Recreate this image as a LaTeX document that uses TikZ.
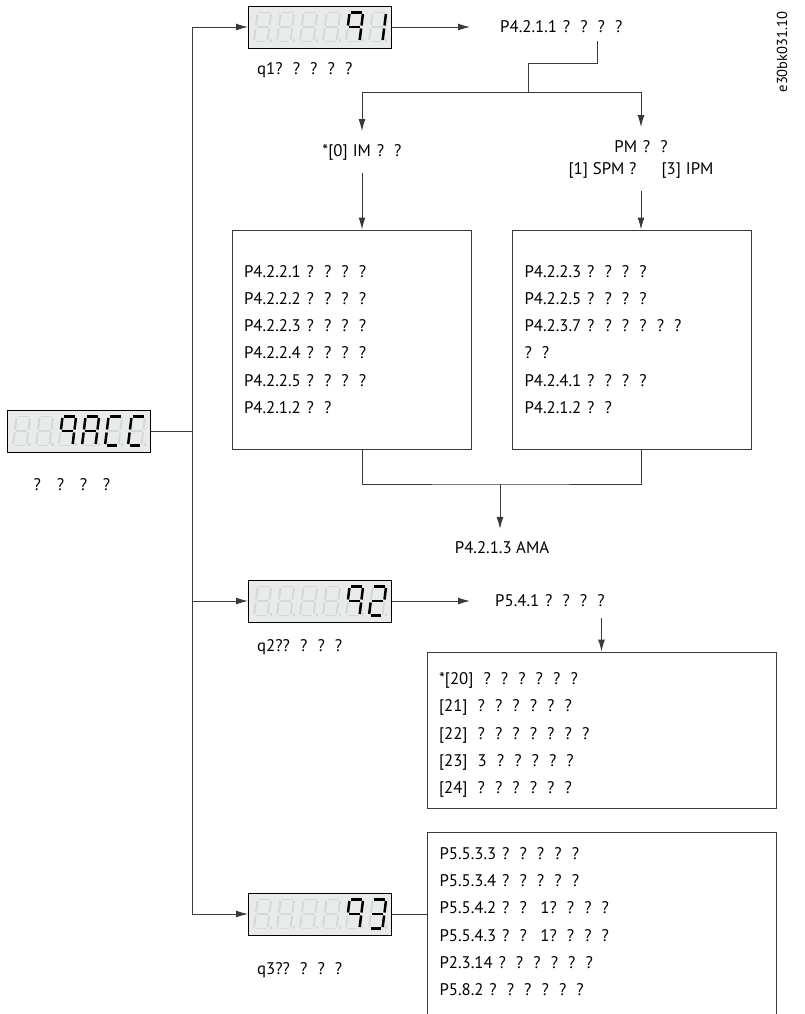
\documentclass[tikz,border=0pt]{standalone}
\usepackage{fontspec}
\setmainfont{PT Sans}
\usetikzlibrary{arrows.meta}
\definecolor{lcdbg}{HTML}{E9EBEB}
\definecolor{lcdghost}{HTML}{D5D8D8}
\definecolor{linec}{HTML}{3A3A3A}
\newcommand\fs{\fontsize{16.8bp}{27.2bp}\selectfont}
\newcommand\fsb{\fontsize{16.8bp}{22bp}\selectfont}
\newcommand\W{\spaceskip=0.6em\xspaceskip=0.6em\relax}
\def\SegEight{TL/TR,TR/MR,MR/BR,BL/BR,ML/BL,TL/ML,ML/MR}
\def\SegNine{TL/TR,TR/MR,MR/BR,TL/ML,ML/MR}
\def\SegOne{TR/MR,MR/BR}
\def\SegTwo{TL/TR,TR/MR,ML/MR,ML/BL,BL/BR}
\def\SegThree{TL/TR,TR/MR,ML/MR,MR/BR,BL/BR}
\def\SegA{TL/TR,TR/MR,MR/BR,ML/BL,TL/ML,ML/MR}
\def\SegC{TL/TR,BL/BR,ML/BL,TL/ML}
\newcommand\lcddigit[5]{%
  \begin{scope}[shift={(#1.south west)}]
   \begin{scope}[shift={(6+23*#2,-7)}]
    \coordinate (BL) at (0,0); \coordinate (BR) at (13.5,0);
    \coordinate (ML) at (1.8,-14.5); \coordinate (MR) at (15.3,-14.5);
    \coordinate (TL) at (3.6,-29); \coordinate (TR) at (17.1,-29);
    \foreach \p/\q in #3 {\draw[#4, line width=#5, shorten <=1.5bp, shorten >=1.5bp] (\p) -- (\q);}
   \end{scope}
  \end{scope}}
\newcommand\lcddot[2]{%
  \begin{scope}[shift={(#1.south west)}]
   \fill[lcdghost] (6+23*#2+15.5,-7) rectangle ++(2.2,-2.2);
  \end{scope}}
\tikzset{
  conn/.style={draw=linec, line width=1bp},
  arr/.style={conn, -{Latex[length=12bp,width=7bp]}},
  lcd/.style={draw=black, line width=1bp, fill=lcdbg, minimum width=143bp, minimum height=42bp, inner sep=0},
  txt/.style={inner sep=0, font=\fs},
  lbl/.style={inner sep=0, outer ysep=13bp, align=center, font=\fsb},
  panel/.style={draw=linec, line width=1bp, inner xsep=12bp, align=left, font=\fs},
}
\begin{document}
\begin{tikzpicture}[x=1bp,y=-1bp]
\useasboundingbox[fill=white] (0,0) rectangle (805,1014);

% LCD displays
\node[lcd] (lcd0) at (79,431) {};
\node[lcd] (lcd1) at (320,27) {};
\node[lcd] (lcd2) at (320,601) {};
\node[lcd] (lcd3) at (320,914) {};
\foreach \n in {lcd0,lcd1,lcd2,lcd3}{\foreach \i in {0,...,5}{\lcddigit{\n}{\i}{\SegEight}{lcdghost}{1.9bp}\lcddot{\n}{\i}}}
\lcddigit{lcd0}{2}{\SegNine}{black}{2.5bp}
\lcddigit{lcd0}{3}{\SegA}{black}{2.5bp}
\lcddigit{lcd0}{4}{\SegC}{black}{2.5bp}
\lcddigit{lcd0}{5}{\SegC}{black}{2.5bp}
\lcddigit{lcd1}{4}{\SegNine}{black}{2.5bp}
\lcddigit{lcd1}{5}{\SegOne}{black}{2.5bp}
\lcddigit{lcd2}{4}{\SegNine}{black}{2.5bp}
\lcddigit{lcd2}{5}{\SegTwo}{black}{2.5bp}
\lcddigit{lcd3}{4}{\SegNine}{black}{2.5bp}
\lcddigit{lcd3}{5}{\SegThree}{black}{2.5bp}

% labels under LCDs
\node[txt] (l0) at (72,485) {\spaceskip=0.85em\relax ? ? ? ?};
\node[txt, anchor=west] (l1) at (257,70) {\W q1? ? ? ? ?};
\node[txt, anchor=west] (l2) at (257,647) {\W q2?? ? ? ?};
\node[txt, anchor=west] (l3) at (257,970) {\W q3?? ? ? ?};

% main trunk
\coordinate (top) at (192,27);
\coordinate (bot) at (192,914);
\draw[conn] (top) -- (bot);
\draw[conn] (lcd0.east) -- (lcd0.east -| top);
\draw[arr] (top) -- (lcd1.west);
\draw[arr] (lcd2.west -| top) -- (lcd2.west);
\draw[arr] (bot) -- (lcd3.west);

% branch q1
\node[txt, anchor=west] (t1) at (500,27) {\W P4.2.1.1\kern.35em ? ? ? ?};
\draw[arr] (lcd1.east) -- ([xshift=-30bp]t1.west);
\coordinate (s0) at (597,63);
\coordinate (jm) at (528,92);
\node[lbl] (im) at (362,152) {\W *[0]\kern.3em IM\kern.35em ? ?};
\node[lbl] (pm) at (641,159) {\W PM\kern.35em ? ?\\{}[1]\kern.3em SPM ?\kern1.5em[3]\kern.3em IPM};
\draw[conn] (s0 |- t1.south) ++(0,8) -- (s0) -| (jm);
\draw[conn] (jm -| im) -- (jm -| pm);
\draw[arr] (jm -| im) -- (im.north);
\draw[arr] (jm -| pm) -- (pm.north);

\node[panel, minimum width=239bp, minimum height=219bp, text width=215bp] (boxL) at (351.5,339.5) {\W
P4.2.2.1\kern.35em ? ? ? ?\\
P4.2.2.2\kern.35em ? ? ? ?\\
P4.2.2.3\kern.35em ? ? ? ?\\
P4.2.2.4\kern.35em ? ? ? ?\\
P4.2.2.5\kern.35em ? ? ? ?\\
P4.2.1.2\kern.35em ? ?};
\node[panel, minimum width=239bp, minimum height=219bp, text width=214bp, inner xsep=12.5bp] (boxR) at (631.5,339.5) {\W
P4.2.2.3\kern.35em ? ? ? ?\\
P4.2.2.5\kern.35em ? ? ? ?\\
P4.2.3.7\kern.35em ? ? ? ? ? ?\\
? ?\\
P4.2.4.1\kern.35em ? ? ? ?\\
P4.2.1.2\kern.35em ? ?};
\draw[arr] (im.south) -- (im.south |- boxL.north);
\draw[arr] (pm.south) -- (pm.south |- boxR.north);

\coordinate (jb) at (500,484);
\node[lbl] (ama) at (502,548) {P4.2.1.3 AMA};
\draw[conn] (im |- boxL.south) |- (jb) -| (pm |- boxR.south);
\draw[arr] (jb) -- (jb |- ama.north);

% branch q2
\node[txt, anchor=west] (t2) at (495,601) {\W P5.4.1\kern.35em ? ? ? ?};
\draw[arr] (lcd2.east) -- ([xshift=-25bp]t2.west);
\node[panel, minimum width=349bp, minimum height=156bp, text width=325bp] (box2) at (601.5,730) {\W
\rule{0pt}{22bp}*[20] ? ? ? ? ? ?\\{}%
[21] ? ? ? ? ? ?\\{}%
[22] ? ? ? ? ? ? ?\\{}%
[23] 3 ? ? ? ? ?\\{}%
[24] ? ? ? ? ? ?};
\draw[arr] (box2.north |- t2.south) ++(0,11) -- (box2.north);

% branch q3
\coordinate (pgbot) at (0,1014);
\node[panel, draw=none, anchor=north west, inner ysep=15bp, text width=325bp] (box3) at (427,832) {\W
P5.5.3.3\kern.35em ? ? ? ? ?\\
P5.5.3.4\kern.35em ? ? ? ? ?\\
P5.5.4.2\kern.35em ? ?\kern.8em 1? ? ? ?\\
P5.5.4.3\kern.35em ? ?\kern.8em 1? ? ? ?\\
P2.3.14\kern.35em ? ? ? ? ? ?\\
P5.8.2\kern.35em ? ? ? ? ? ?};
\draw[conn] (box3.north west |- pgbot) -- (box3.north west) -- ([xshift=349bp]box3.north west) -- ([xshift=349bp]box3.north west |- pgbot);
\draw[conn] (lcd3.east) -- (lcd3.east -| box3.west);

% figure code
\node[rotate=90, inner sep=0, font=\fontsize{14.5bp}{16bp}\selectfont] (code) at (782,52) {e30bk031.10};
\end{tikzpicture}
\end{document}
